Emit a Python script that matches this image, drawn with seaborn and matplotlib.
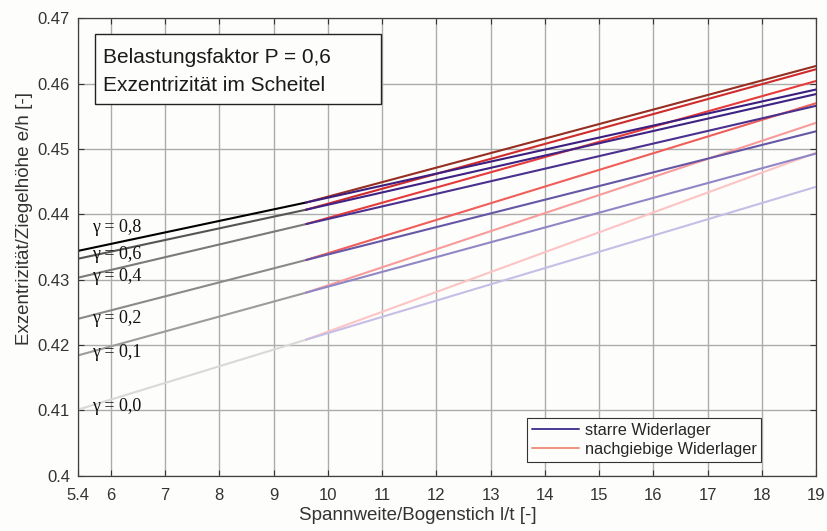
import pandas as pd
import matplotlib.pyplot as plt
import seaborn as sns
from matplotlib.lines import Line2D
from matplotlib.patches import Rectangle

# --- Daten ---
gamma = ["0,8", "0,6", "0,4", "0,2", "0,1", "0,0"]
x_links = 5.4
x_knick = 9.6
x_rechts = 19.0

y_links = [0.4344, 0.4332, 0.4303, 0.4240, 0.4184, 0.4101]
y_knick = [0.4418, 0.4407, 0.4385, 0.4330, 0.4280, 0.4208]
y_starr = [0.4591, 0.4584, 0.4566, 0.4527, 0.4493, 0.4442]
y_nachg = [0.4627, 0.4622, 0.4604, 0.4570, 0.4540, 0.4494]

label_x = 5.65
label_y = [0.4379, 0.4338, 0.4304, 0.4241, 0.4188, 0.4106]

x_ticks = [5.4, 6, 7, 8, 9, 10, 11, 12, 13, 14, 15, 16, 17, 18, 19]
y_ticks = [0.40, 0.41, 0.42, 0.43, 0.44, 0.45, 0.46, 0.47]
y_ticklabels = ["0.4", "0.41", "0.42", "0.43", "0.44", "0.45", "0.46", "0.47"]

farben_grau = ["#000000", "#555555", "#7a7a7a", "#8a8a8a", "#9c9c9c", "#d9d9d9"]
farben_starr = ["#3c1e80", "#3e2284", "#4a3190", "#6656a6", "#9088c6", "#c6bee6"]
farben_nachg = ["#962e22", "#cf2b2c", "#e63b3b", "#f05e5a", "#f79c9a", "#fcc4c4"]

# --- Long-Form Tabelle ---
zeilen = []
for i, g in enumerate(gamma):
    zeilen += [("grau_" + g, x_links, y_links[i]), ("grau_" + g, x_knick, y_knick[i])]
    zeilen += [("starr_" + g, x_knick, y_knick[i]), ("starr_" + g, x_rechts, y_starr[i])]
    zeilen += [("nachg_" + g, x_knick, y_knick[i]), ("nachg_" + g, x_rechts, y_nachg[i])]
df = pd.DataFrame(zeilen, columns=["serie", "lt", "eh"])

palette = {}
for i, g in enumerate(gamma):
    palette["grau_" + g] = farben_grau[i]
    palette["starr_" + g] = farben_starr[i]
    palette["nachg_" + g] = farben_nachg[i]

sns.set_theme(style="whitegrid")
plt.rcParams["font.family"] = ["Liberation Sans", "DejaVu Sans"]

fig = plt.figure(figsize=(8.27, 5.31), dpi=100, facecolor="#fdfdfb")
ax = fig.add_axes([0.0947, 0.1045, 0.892, 0.861])
ax.set_facecolor("#fdfdfb")

reihenfolge = [s for s in palette if s.startswith("grau")] + \
              [s for s in palette if s.startswith("nachg")] + \
              [s for s in palette if s.startswith("starr")]
sns.lineplot(data=df, x="lt", y="eh", hue="serie", hue_order=reihenfolge,
             palette=palette, estimator=None, legend=False, linewidth=1.5, ax=ax)

for g, ly in zip(gamma, label_y):
    ax.text(label_x, ly, "γ = " + g, family=["Liberation Serif", "DejaVu Serif"],
            fontsize=13, va="center", ha="left", color="#111111")

# Textbox oben links
ax.add_patch(Rectangle((0.0226, 0.812), 0.3877, 0.153, transform=ax.transAxes,
                       facecolor="#fdfdfb", edgecolor="#222222", lw=1.0, zorder=5))
ax.text(0.0335, 0.915, "Belastungsfaktor P = 0,6", transform=ax.transAxes,
        fontsize=15, va="center", ha="left", color="#1a1a1a", zorder=6)
ax.text(0.0335, 0.854, "Exzentrizität im Scheitel", transform=ax.transAxes,
        fontsize=15, va="center", ha="left", color="#1a1a1a", zorder=6)

handles = [Line2D([], [], color="#4b3a92", lw=1.4),
           Line2D([], [], color="#f0927f", lw=1.4)]
leg = ax.legend(handles, ["starre Widerlager", "nachgiebige Widerlager"],
                loc="lower left", bbox_to_anchor=(0.608, 0.0306), fontsize=11.7,
                frameon=True, fancybox=False, framealpha=1, handlelength=2.9,
                handletextpad=0.35, labelspacing=0.22, borderpad=0.3,
                borderaxespad=0)
leg.get_frame().set_edgecolor("#333333")
leg.get_frame().set_linewidth(0.8)
leg.get_frame().set_facecolor("#fdfdfb")

ax.set_xlim(5.4, 19)
ax.set_ylim(0.40, 0.47)
ax.set_xticks(x_ticks)
ax.set_xticklabels([str(t) for t in x_ticks])
ax.set_yticks(y_ticks)
ax.set_yticklabels(y_ticklabels)
ax.grid(True, color="#acacac", lw=1.0)
ax.tick_params(direction="in", length=4, width=0.8, top=True, right=True,
               bottom=True, left=True, labelsize=12, labelcolor="#333333",
               color="#333333", pad=6)
ax.tick_params(axis="x", pad=9)
for s in ax.spines.values():
    s.set_color("#404040")
    s.set_linewidth(0.9)

ax.set_xlabel("Spannweite/Bogenstich l/t [-]", fontsize=13.5, color="#333333")
ax.set_ylabel("Exzentrizität/Ziegelhöhe e/h [-]", fontsize=13.5, color="#333333")
ax.xaxis.set_label_coords(0.4605, -0.068)
ax.yaxis.set_label_coords(-0.0614, 0.563)

fig.savefig("out.png", dpi=100, facecolor=fig.get_facecolor())
